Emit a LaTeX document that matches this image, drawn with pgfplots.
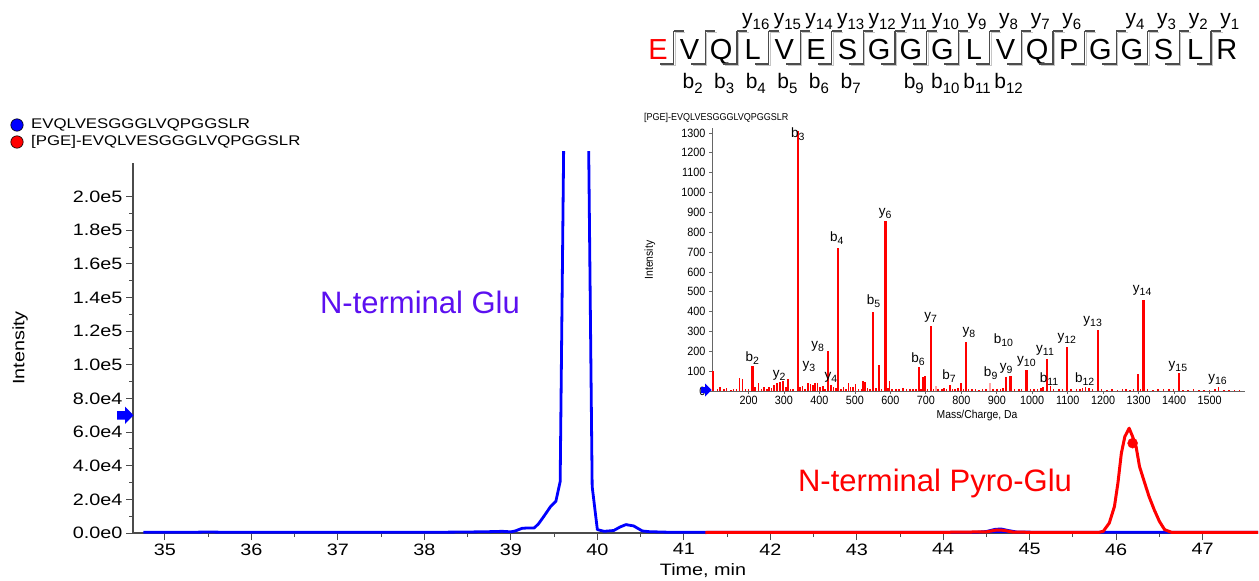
\documentclass[border=0pt]{standalone}
\usepackage{fontspec}
\setmainfont{Liberation Sans}
\newfontfamily\widefont{Liberation Sans}[FakeStretch=1.2]
\newfontfamily\narrowfont{Liberation Sans}[FakeStretch=0.9]
\usepackage{pgfplots}
\pgfplotsset{compat=1.18}
\definecolor{gluviolet}{RGB}{92,16,240}
\definecolor{axgray}{RGB}{75,75,75}
\newcommand{\fs}[1]{\fontsize{#1}{#1}\selectfont}
% ion label in the spectrum: letter + lowered index
\newcommand{\ionS}[2]{{\fs{13.5}#1\raisebox{-3pt}{\fs{10.5}#2}}}
% ion label on the sequence map
\newcommand{\ionL}[2]{{\fs{21}#1\raisebox{-5pt}{\fs{15}#2}}}

\begin{document}
\begin{tikzpicture}
\useasboundingbox (0,0) rectangle (1259pt,-581pt);

% ---------- chromatogram ----------
\begin{axis}[
  at={(133pt,-533pt)}, anchor=south west,
  scale only axis, width=1125pt, height=370pt,
  xmin=34.63, xmax=47.64, ymin=0, ymax=220000,
  axis lines=left, axis line style={-, axgray, line width=1.3pt},
  every tick/.style={axgray, line width=1pt},
  tick align=outside, major tick length=7pt, minor tick length=4pt,
  xtick={35,36,37,38,39,40,41,42,43,44,45,46,47},
  xticklabels={35,36,37,38,39,40,41,42,43,44,45,46,47},
  minor x tick num=1,
  ytick={0,20000,40000,60000,80000,100000,120000,140000,160000,180000,200000},
  yticklabels={0.0e0,2.0e4,4.0e4,6.0e4,8.0e4,1.0e5,1.2e5,1.4e5,1.6e5,1.8e5,2.0e5},
  minor y tick num=1,
  scaled y ticks=false,
  tick label style={font=\widefont\fs{16.5}},
  clip=false, unbounded coords=jump,
]
% EVQLVESGGGLVQPGGSLR
\addplot[blue, line width=2.8pt, line join=round] coordinates {
  (34.75,400) (35.0,500) (35.25,400) (35.5,600) (35.75,400) (36.0,400)
  (36.5,400) (37.0,400) (37.5,400) (38.0,400) (38.25,500) (38.5,600)
  (38.75,800) (38.9,1000) (39.0,700) (39.05,1200) (39.13,2800) (39.2,3000)
  (39.27,3000) (39.32,5500) (39.38,9800) (39.46,15800) (39.52,18800)
  (39.57,30600) (39.61,227000) (39.75,nan) (39.90,227000) (39.94,27700)
  (40.0,2000) (40.08,1000) (40.19,1500) (40.26,3500) (40.33,5000)
  (40.42,4200) (40.52,1200) (40.6,800) (40.8,500) (41.0,400) (41.5,400)
  (42,400) (43,400) (44,400) (44.4,500) (44.5,900) (44.6,2200) (44.67,2400)
  (44.75,1500) (44.85,600) (45.2,400) (46,400) (47,400) (47.64,400)
};
\addplot[fill=blue, draw=none] coordinates {
  (44.5,0) (44.55,900) (44.62,2100) (44.7,2000) (44.77,900) (44.8,0)
} \closedcycle;
% [PGE]-EVQLVESGGGLVQPGGSLR
\addplot[red, line width=3pt, line join=round] coordinates {
  (41.25,300) (42,400) (43,400) (44,400) (44.5,700) (44.62,1800)
  (44.7,1600) (44.8,600) (45,400) (45.5,400) (45.8,400) (45.85,1000)
  (45.92,5900) (45.98,15800) (46.02,29700) (46.06,47500) (46.10,57300)
  (46.15,62300) (46.19,57300) (46.23,51400) (46.27,39500) (46.33,29700)
  (46.38,21700) (46.44,13800) (46.50,6900) (46.56,2000) (46.64,400)
  (47,400) (47.64,400)
};
\addplot[only marks, mark=*, mark size=5pt, red] coordinates {(46.19,53400)};
\end{axis}

% ---------- MS/MS inset ----------
\begin{axis}[
  at={(712pt,-391pt)}, anchor=south west,
  scale only axis, width=533pt, height=263pt,
  xmin=97, xmax=1600, ymin=0, ymax=1325,
  axis lines=left, axis line style={-, gray!80!black, line width=1pt},
  every tick/.style={gray!80!black, line width=0.8pt},
  tick align=outside, major tick length=3pt,
  xtick={200,300,400,500,600,700,800,900,1000,1100,1200,1300,1400,1500},
  xticklabels={200,300,400,500,600,700,800,900,1000,1100,1200,1300,1400,1500},
  ytick={0,100,200,300,400,500,600,700,800,900,1000,1100,1200,1300},
  yticklabels={0,100,200,300,400,500,600,700,800,900,1000,1100,1200,1300},
  tick label style={font=\narrowfont\fs{12}},
  xticklabel style={inner sep=1.5pt},
  clip=false,
]
% noise and minor fragments
\addplot[ycomb, red, line width=1.6pt] coordinates {
  (100,100) (112,10) (120,18) (130,8) (138,15) (150,6) (158,10) (166,8)
  (175,68) (183,58) (192,10) (200,12) (218,22) (228,42)
  (236,12) (244,18) (252,10) (258,22) (265,15) (272,30) (280,38)
  (288.2,45) (298,52) (305,20) (311,58) (318,12) (326,10)
  (345,22) (352,25) (360,12) (368,42) (375.2,35) (382,30) (388,38)
  (395,42) (402,18) (410,25) (416,10) (432.3,30) (440,22)
  (446,15) (460,12) (468,20) (475,12) (482,42) (488,18)
  (495,22) (502,35) (510,12) (518,8) (523,52) (528,45) (535,15) (542,12)
  (560,15) (575,12) (593,15) (598,48)
  (605,12) (615,8) (625,10) (635,15) (645,8) (655,10) (663,8) (672,12)
  (686,12) (692,70) (698,78) (705,10) (722,12)
  (735,10) (745,8) (752,15) (758,10) (767.4,30) (775,12) (782,8) (790,15)
  (799,38) (806,10) (820,12) (830,8) (840,10) (850,6) (860,10)
  (870,8) (890,10) (900,8) (910,12) (918,15) (950,8)
  (962,10) (970,12) (995,8) (1005,10) (1015,12) (1025,15)
  (1030,18) (1051.5,25) (1060,8) (1075,10) (1085,8)
  (1110,8) (1125,10) (1135,12) (1142,15) (1150.6,20)
  (1160,15) (1170,8) (1195,8) (1210,6) (1225,8) (1240,6)
  (1255,8) (1265,10) (1275,6) (1286,10) (1298,85) (1305,8)
  (1325,8) (1340,6) (1355,8) (1370,10) (1385,8) (1398,12)
  (1425,6) (1440,5) (1455,8) (1470,6) (1485,5) (1500,6) (1515,8)
  (1525.8,20) (1540,6) (1555,5) (1570,6) (1585,5)
};
% main fragments
\addplot[ycomb, red, line width=2.2pt] coordinates {
  (211.1,125) (339.2,1310) (423,200) (452.3,722) (551.3,400) (568,130)
  (586.3,855) (680.4,120) (714.4,330) (813.5,245) (926.5,70) (938.5,75)
  (983.6,105) (1040.6,160) (1097.6,220) (1184.6,305) (1313.7,460)
  (1412.8,90)
};
\addplot[ycomb, red!35, line width=1.8pt] coordinates {(728,25) (881.4,40)};
% fragment labels
\node at (axis cs:339.2,1296) {\ionS{b}{3}};
\node at (axis cs:210.6,167) {\ionS{b}{2}};
\node at (axis cs:286.6,79) {\ionS{y}{2}};
\node at (axis cs:370.5,123) {\ionS{y}{3}};
\node at (axis cs:395.1,225) {\ionS{y}{8}};
\node at (axis cs:432,67) {\ionS{y}{4}};
\node at (axis cs:448.8,769) {\ionS{b}{4}};
\node at (axis cs:585.3,892) {\ionS{y}{6}};
\node at (axis cs:552.8,453) {\ionS{b}{5}};
\node at (axis cs:678.1,161) {\ionS{b}{6}};
\node at (axis cs:713.9,372) {\ionS{y}{7}};
\node at (axis cs:765.4,75) {\ionS{b}{7}};
\node at (axis cs:821.3,295) {\ionS{y}{8}};
\node at (axis cs:882.8,88) {\ionS{b}{9}};
\node at (axis cs:926.5,111) {\ionS{y}{9}};
\node at (axis cs:918.6,254) {\ionS{b}{10}};
\node at (axis cs:983.5,149) {\ionS{y}{10}};
\node at (axis cs:1036.1,202) {\ionS{y}{11}};
\node at (axis cs:1047.3,61) {\ionS{b}{11}};
\node at (axis cs:1097.6,267) {\ionS{y}{12}};
\node at (axis cs:1148,61) {\ionS{b}{12}};
\node at (axis cs:1170.3,351) {\ionS{y}{13}};
\node at (axis cs:1310,509) {\ionS{y}{14}};
\node at (axis cs:1410.8,126) {\ionS{y}{15}};
\node at (axis cs:1522.6,56) {\ionS{y}{16}};
\end{axis}

\begin{scope}[x=1pt, y=-1pt]
% axis titles
\node[font=\widefont\fs{16.5}] at (703,571) {Time, min};
\node[font=\widefont\fs{16.5}, rotate=90] at (20,348) {Intensity};
\node[font=\narrowfont\fs{11.5}] at (977,416) {Mass/Charge, Da};
\node[font=\narrowfont\fs{11.5}, rotate=90] at (650,260) {Intensity};
\node[font=\narrowfont\fs{10}, anchor=west, inner sep=0] at (644,118) {[PGE]-EVQLVESGGGLVQPGGSLR};
% legend
\fill[blue, draw=black, line width=0.6pt] (17,125) circle (6.2);
\fill[red, draw=black, line width=0.6pt] (17,142) circle (6.2);
\node[font=\widefont\fs{14}, anchor=west, inner sep=0] at (31,125) {EVQLVESGGGLVQPGGSLR};
\node[font=\widefont\fs{14}, anchor=west, inner sep=0] at (31,142) {[PGE]-EVQLVESGGGLVQPGGSLR};
% precursor arrows
\fill[blue] (117,411) -- (125,411) -- (125,406.5) -- (133.5,415.3) -- (125,424) -- (125,419.6) -- (117,419.6) -- cycle;
\fill[blue] (701,387) -- (705,387) -- (705,383.5) -- (711.5,390) -- (705,396.5) -- (705,393) -- (701,393) -- cycle;
% annotations
\node[font=\fs{31}, text=gluviolet] at (420,302) {N-terminal Glu};
\node[font=\fs{31}, text=red] at (935,483) {N-terminal Pyro-Glu};
% sequence map
\foreach \r [count=\i] in {E,V,Q,L,V,E,S,G,G,G,L,V,Q,P,G,G,S,L,R} {
  \pgfmathsetmacro{\xx}{658+31.6*(\i-1)}
  \ifnum\i=1
    \node[font=\fs{29}, text=red, anchor=base, inner sep=0] at (\xx,59) {\r};
  \else
    \node[font=\fs{29}, anchor=base, inner sep=0] at (\xx,59) {\r};
  \fi
}
\foreach \i in {1,...,18} {
  \pgfmathsetmacro{\gx}{658+31.6*(\i-1)+15.8}
  \draw[gray!45, line width=1.1pt] (\gx+1.5,32.5) -- ++(10,0) (\gx+1.5,32.5) -- ++(0,33) -- ++(-14,0);
  \draw[black!70, line width=1.1pt] (\gx,31) -- ++(10,0) (\gx,31) -- ++(0,33) -- ++(-14,0);
}
% y ions above, b ions below
\foreach \k/\res in {16/4,15/5,14/6,13/7,12/8,11/9,10/10,9/11,8/12,7/13,6/14,4/16,3/17,2/18,1/19} {
  \pgfmathsetmacro{\xx}{658+31.6*(\res-1)+3}
  \node[anchor=base, inner sep=0] at (\xx,24) {\ionL{y}{\k}};
}
\foreach \k in {2,3,4,5,6,7,9,10,11,12} {
  \pgfmathsetmacro{\xx}{658+31.6*(\k-1)+3}
  \node[anchor=base, inner sep=0] at (\xx,88) {\ionL{b}{\k}};
}
\end{scope}
\end{tikzpicture}
\end{document}
